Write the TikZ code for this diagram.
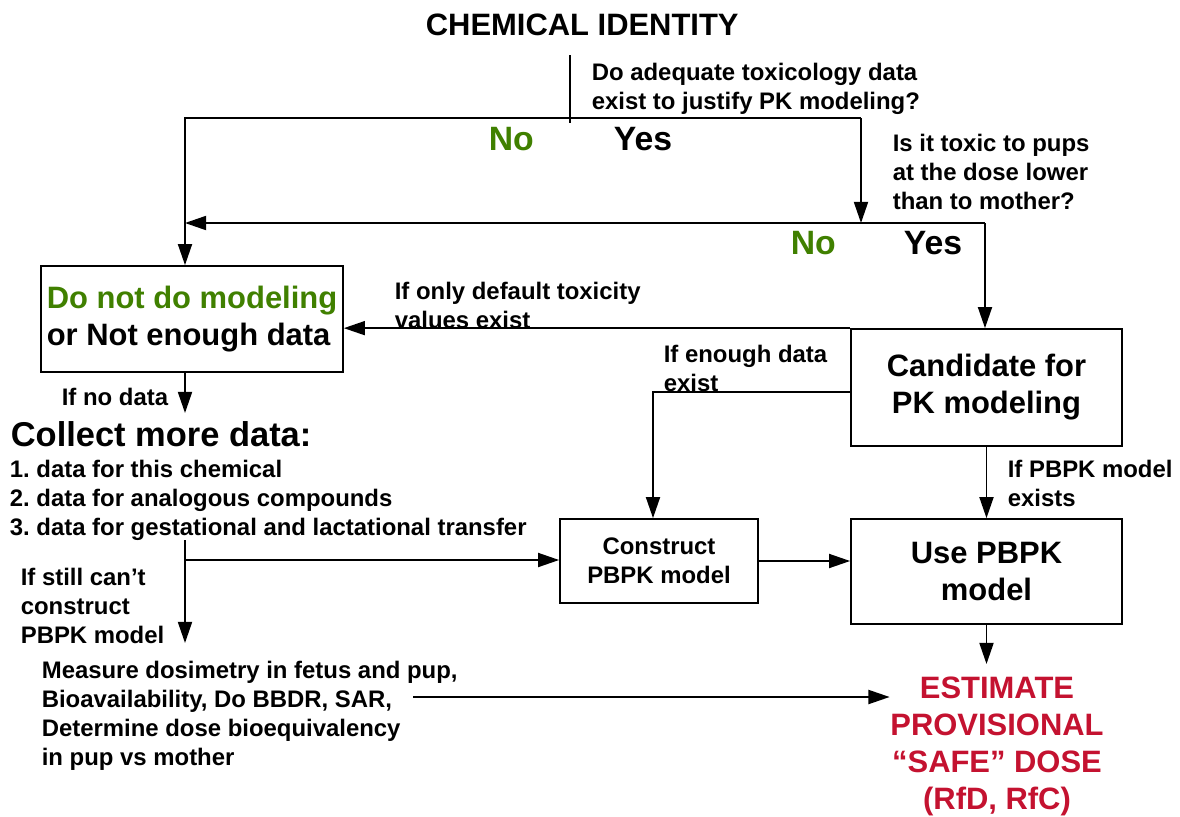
\documentclass[tikz,border=0pt]{standalone}
\usepackage{fontspec}
\setmainfont{Liberation Sans}
\usetikzlibrary{arrows.meta,positioning}
\definecolor{nogreen}{RGB}{64,128,0}
\definecolor{dosered}{RGB}{196,18,48}

\begin{document}
\begin{tikzpicture}[x=0.025cm, y=-0.025cm, line width=1.2pt,
  >={Triangle[length=15pt,width=10pt]},
  smallfont/.style={font=\fontsize{17}{20.6}\selectfont\bfseries},
  bigfont/.style={font=\fontsize{22}{26.3}\selectfont\bfseries},
  lbl/.style={smallfont, align=left, anchor=north west, inner sep=0pt},
  answer/.style={font=\fontsize{24}{28}\selectfont\bfseries, anchor=north west, inner sep=0pt},
  box/.style={draw, bigfont, align=center, inner sep=0pt}]
\useasboundingbox (0,0) rectangle (1180,817);

% title and first question
\node[bigfont, anchor=north west, inner sep=0pt] (title) at (425,13) {CHEMICAL IDENTITY};
\node[lbl] (q1) at (591,62) {Do adequate toxicology data\\exist to justify PK modeling?};
\node[answer, text=nogreen] (no1) at (488,126) {No};
\node[answer] (yes1) at (613,126) {Yes};

% second question
\node[lbl] (q2) at (892,133) {Is it toxic to pups\\at the dose lower\\than to mother?};
\node[answer, text=nogreen] (no2) at (790,230) {No};
\node[answer] (yes2) at (903,230) {Yes};

% boxes
\node[box, align=left, minimum width=7.55cm, minimum height=2.65cm] (nobox) at (192,319)
  {\textcolor{nogreen}{Do not do modeling}\\or Not enough data};
\node[box, minimum width=6.775cm, minimum height=2.925cm] (cand) at (986.5,387.5) {Candidate for\\PK modeling};
\node[box, minimum width=6.775cm, minimum height=2.625cm] (use) at (986.5,571.5) {Use PBPK\\model};
\node[box, smallfont, minimum width=4.95cm, minimum height=2.1cm] (construct) at (659,561) {Construct\\PBPK model};

% labels on the connectors
\node[lbl] (default) at (394,281) {If only default toxicity\\values exist};
\node[lbl] (enough) at (663,344) {If enough data\\exist};
\node[lbl] (exists) at (1007,459) {If PBPK model\\exists};
\node[lbl] (nodata) at (61,387) {If no data};
\node[font=\fontsize{24.5}{29}\selectfont\bfseries, anchor=north west, inner sep=0pt] (collect) at (10,421) {Collect more data:};
\node[lbl] (list) at (9,459) {1.\ data for this chemical\\2.\ data for analogous compounds\\3.\ data for gestational and lactational transfer};
\node[lbl] (stillcant) at (20,567) {If still can’t\\construct\\PBPK model};
\node[lbl] (measure) at (41,660) {Measure dosimetry in fetus and pup,\\Bioavailability, Do BBDR, SAR,\\Determine dose bioequivalency\\in pup vs mother};
\node[bigfont, text=dosered, align=center, anchor=north, inner sep=0pt] (est) at (997,676)
  {ESTIMATE\\PROVISIONAL\\“SAFE” DOSE\\(RfD, RfC)};

% junctions
\coordinate (stubtop) at (570,55);
\coordinate (stubbot) at (570,123);
\coordinate (splitL) at (185,118);
\coordinate (splitR) at (861,118);
\coordinate (fork2) at (985,223);
\coordinate (bendC) at (653,392);
\coordinate (collectin) at (185,413);
\coordinate (listout) at (185,540);
\coordinate (branch) at (185,560);
\coordinate (measurein) at (185,643);
\coordinate (measureout) at (413,697);

% connectors
\draw (stubtop) -- (stubbot);
\draw[->] (splitR) -- (splitL) -- (splitL |- nobox.north);
\draw[->] (splitR) -- (splitR |- fork2);
\draw[->] (fork2) -- (splitL |- fork2);
\draw[->] (fork2) -- (fork2 |- cand.north);
\draw[->] (cand.north west) -- (nobox.east |- cand.north west);
\draw[->] (bendC -| cand.west) -- (bendC) -- (bendC |- construct.north);
\draw[->] (cand.south) -- (use.north);
\draw[->] (construct.east) -- (construct.east -| use.west);
\draw[->] (use.south) -- (use.south |- 0,664);
\draw[->] (splitL |- nobox.south) -- (collectin);
\draw[->] (listout) -- (measurein);
\draw[->] (branch) -- (branch -| construct.west);
\draw[->] (measureout) -- (measureout -| est.west);
\end{tikzpicture}
\end{document}
